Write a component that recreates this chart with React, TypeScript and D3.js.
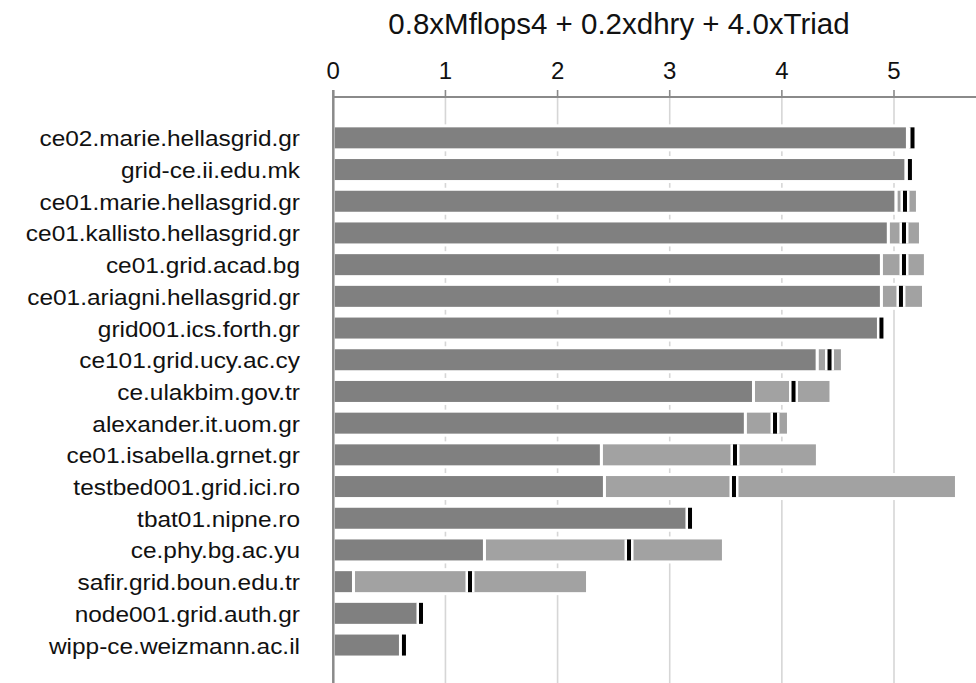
import React from "react";
import * as d3 from "d3";

const title = "0.8xMflops4 + 0.2xdhry + 4.0xTriad";

const categories = [
  "ce02.marie.hellasgrid.gr",
  "grid-ce.ii.edu.mk",
  "ce01.marie.hellasgrid.gr",
  "ce01.kallisto.hellasgrid.gr",
  "ce01.grid.acad.bg",
  "ce01.ariagni.hellasgrid.gr",
  "grid001.ics.forth.gr",
  "ce101.grid.ucy.ac.cy",
  "ce.ulakbim.gov.tr",
  "alexander.it.uom.gr",
  "ce01.isabella.grnet.gr",
  "testbed001.grid.ici.ro",
  "tbat01.nipne.ro",
  "ce.phy.bg.ac.yu",
  "safir.grid.boun.edu.tr",
  "node001.grid.auth.gr",
  "wipp-ce.weizmann.ac.il",
];

// minimum (dark segment end)
const minValues = [5.12, 5.108, 5.019, 4.95, 4.888, 4.888, 4.866, 4.316, 3.747, 3.675, 2.391, 2.418, 3.158, 1.348, 0.18, 0.76, 0.599];
// mean (black marker)
const meanValues = [5.165, 5.142, 5.098, 5.089, 5.089, 5.062, 4.888, 4.425, 4.104, 3.939, 3.582, 3.573, 3.181, 2.637, 1.219, 0.782, 0.63];
// maximum (light segment end)
const maxValues = [5.165, 5.142, 5.209, 5.236, 5.28, 5.263, 4.888, 4.54, 4.438, 4.059, 4.317, 5.557, 3.181, 3.479, 2.267, 0.782, 0.63];

const tickValues = [0, 1, 2, 3, 4, 5];
const gridValues = [1, 2, 3, 4, 5, 6];

const W = 976;
const H = 683;
const FONT = "'Liberation Sans', Arial, Helvetica, sans-serif";

export default function App() {
  const x = d3.scaleLinear().domain([0, 5]).range([333.3, 894]);
  const y = d3.scaleBand().domain(categories).range([122, 122 + 17 * 31.7]).padding(0);
  const bw = y.bandwidth();
  const barH = 21;
  const off = (bw - barH) / 2;
  const axisY = 97;
  const labelScale = 1.11;
  const titleScale = 1.0;

  return (
    <svg
      width={W}
      height={H}
      style={{ position: "absolute", left: 0, top: 0, background: "#fff" }}
      fontFamily={FONT}
    >
      <rect x={0} y={0} width={W} height={H} fill="#fff" />
      {/* gridlines */}
      {gridValues.map((g) => (
        <line key={"g" + g} x1={x(g)} x2={x(g)} y1={axisY} y2={H} stroke="#d6d6d6" strokeWidth={1.6} />
      ))}
      {/* bars */}
      {categories.map((c, i) => {
        const y0 = (y(c) as number) + off;
        const lo = minValues[i];
        const m = meanValues[i];
        const hi = maxValues[i];
        return (
          <g key={c}>
            <rect x={x(0)} y={y0 - 1.5} width={x(lo) - x(0)} height={barH + 3} fill="#808080" stroke="#fff" strokeWidth={3} />
            {hi > lo && (
              <rect x={x(lo)} y={y0 - 1.5} width={x(hi) - x(lo)} height={barH + 3} fill="#a2a2a2" stroke="#fff" strokeWidth={3} />
            )}
            <rect x={x(m) - 4.5} y={y0} width={9} height={barH} fill="#fff" />
            <rect x={x(m) - 2} y={y0} width={4} height={barH} fill="#000" />
          </g>
        );
      })}
      {/* axes */}
      <line x1={x(0)} x2={W} y1={axisY} y2={axisY} stroke="#8a8a8a" strokeWidth={2} />
      <line x1={x(0)} x2={x(0)} y1={axisY - 7} y2={H} stroke="#8a8a8a" strokeWidth={2.5} />
      {tickValues.map((t) => (
        <g key={"t" + t}>
          <line x1={x(t)} x2={x(t)} y1={axisY - 7} y2={axisY} stroke="#8a8a8a" strokeWidth={1.6} />
          <text x={x(t)} y={79} textAnchor="middle" fontSize={24} fill="#111">
            {t}
          </text>
        </g>
      ))}
      {/* title */}
      <g transform={`scale(${titleScale},1)`}>
        <text x={619 / titleScale} y={34} textAnchor="middle" fontSize={29.5} fill="#111">
          {title}
        </text>
      </g>
      {/* category labels */}
      <g transform={`scale(${labelScale},1)`}>
        {categories.map((c) => (
          <text
            key={"l" + c}
            x={300 / labelScale}
            y={(y(c) as number) + bw / 2 + 8.5}
            textAnchor="end"
            fontSize={22}
            fill="#111"
          >
            {c}
          </text>
        ))}
      </g>
    </svg>
  );
}
